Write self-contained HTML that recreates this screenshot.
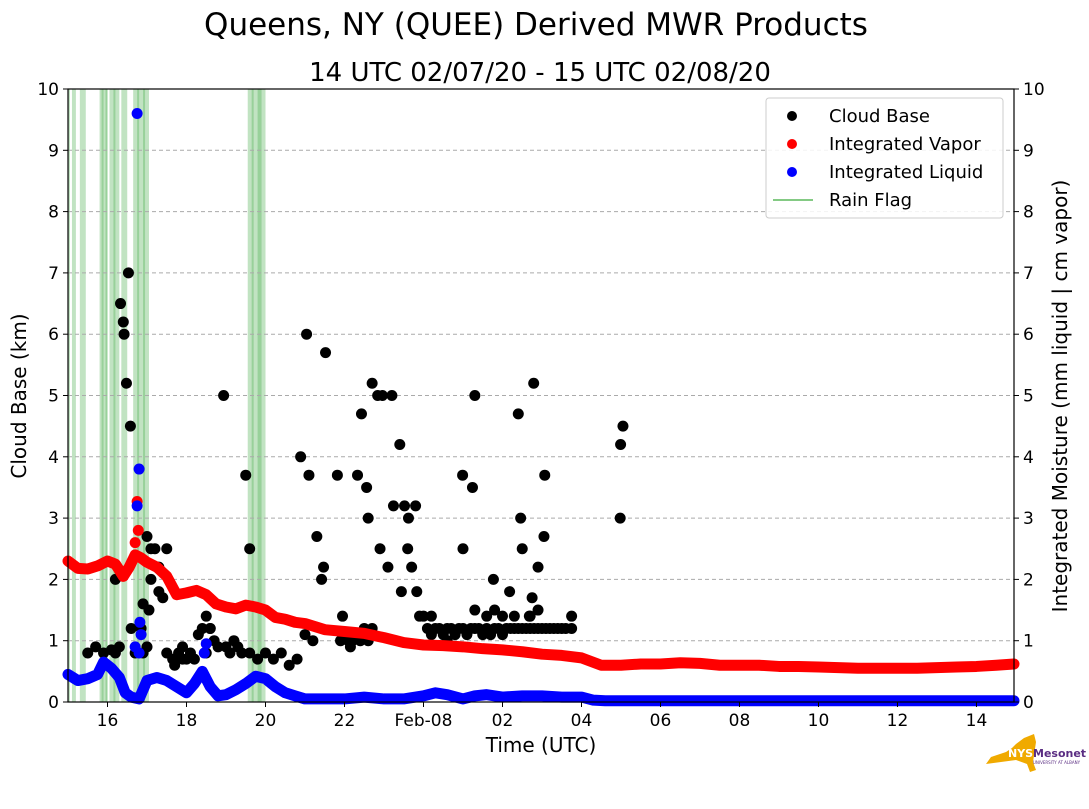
<!DOCTYPE html>
<html><head><meta charset="utf-8"><style>
body{margin:0;background:#fff;}
svg text{font-family:"DejaVu Sans","Liberation Sans",sans-serif;}
</style></head><body>
<svg id="chart" width="1089" height="804" xmlns="http://www.w3.org/2000/svg">
<text x="536" y="35" font-size="31" text-anchor="middle">Queens, NY (QUEE) Derived MWR Products</text>
<text x="540" y="81" font-size="26" text-anchor="middle">14 UTC 02/07/20 - 15 UTC 02/08/20</text>
<g id="rain"></g>
<g id="grid"></g>
<g id="marks"></g>
<rect x="68" y="89" width="946" height="613" fill="none" stroke="#000" stroke-width="1.2"/>
<g id="axes"></g>
<text x="541" y="752" font-size="20" text-anchor="middle">Time (UTC)</text>
<text transform="translate(26,396) rotate(-90)" font-size="20" text-anchor="middle">Cloud Base (km)</text>
<text transform="translate(1067,396) rotate(-90)" font-size="20" text-anchor="middle">Integrated Moisture (mm liquid | cm vapor)</text>
<g>
<rect x="766" y="98" width="237" height="120" rx="3" fill="#fff" fill-opacity="0.85" stroke="#ccc"/>
<circle cx="792" cy="116" r="5" fill="#000"/><text x="829" y="122" font-size="18">Cloud Base</text>
<circle cx="792" cy="144" r="5" fill="#f00"/><text x="829" y="150" font-size="18">Integrated Vapor</text>
<circle cx="792" cy="172" r="5" fill="#00f"/><text x="829" y="178" font-size="18">Integrated Liquid</text>
<line x1="773" y1="200" x2="813" y2="200" stroke="#5cb85c" stroke-width="1.5"/><text x="829" y="206" font-size="18">Rain Flag</text>
</g>
<g>
<path d="M1016,744 L1024,738 L1034,734 L1036,742 L1033,762 L1036,770 L1030,772 L1027,764 L1016,760 L986,764 L991,757 L1006,752 L1012,748 Z" fill="#f0aa00"/>
<text x="1008" y="757" font-size="11" font-weight="bold" fill="#fff">NYS</text>
<text x="1033" y="757" font-size="11" font-weight="bold" fill="#5a2d82">Mesonet</text>
<text x="1033" y="764" font-size="4" fill="#5a2d82">UNIVERSITY AT ALBANY</text>
</g>
</svg>
<script>
const xTickHours=[16,18,20,22,24,26,28,30,32,34,36,38];
const xTickLabels=["16","18","20","22","Feb-08","02","04","06","08","10","12","14"];
const yTicks=[0,1,2,3,4,5,6,7,8,9,10];
const rainStart=[15.0,15.1,15.3,15.8,15.85,15.95,16.05,16.15,16.35,16.65,16.75,16.9,19.55,19.65,19.8];
const rainEnd=[15.05,15.2,15.45,16.0,15.9,16.0,16.3,16.2,16.5,17.05,16.8,16.95,20.0,19.7,19.9];
const vapT=[15,15.25,15.5,15.75,16,16.2,16.4,16.55,16.7,16.85,17,17.25,17.5,17.75,18,18.25,18.5,18.75,19,19.25,19.5,19.75,20,20.25,20.5,20.75,21,21.5,22,22.5,23,23.5,24,24.5,25,25.5,26,26.5,27,27.5,28,28.5,29,29.5,30,30.5,31,31.5,32,32.5,33,33.5,34,34.5,35,35.5,36,36.5,37,37.5,38,38.5,38.95];
const vapV=[2.3,2.18,2.17,2.22,2.3,2.25,2.05,2.2,2.4,2.35,2.28,2.2,2.05,1.75,1.78,1.82,1.75,1.6,1.55,1.52,1.58,1.55,1.5,1.38,1.35,1.3,1.28,1.18,1.15,1.12,1.05,0.97,0.93,0.92,0.9,0.87,0.85,0.82,0.78,0.76,0.72,0.6,0.6,0.62,0.62,0.64,0.63,0.6,0.6,0.6,0.58,0.58,0.57,0.56,0.55,0.55,0.55,0.55,0.56,0.57,0.58,0.6,0.62];
const liqT=[15,15.25,15.5,15.75,15.9,16.1,16.3,16.45,16.6,16.8,17,17.25,17.5,17.75,18,18.2,18.4,18.6,18.8,19,19.25,19.5,19.75,20,20.25,20.5,20.75,21,21.5,22,22.5,23,23.5,24,24.3,24.6,25,25.3,25.6,26,26.5,27,27.5,28,28.3,28.6,29,30,31,32,33,34,35,36,37,38,38.95];
const liqV=[0.45,0.35,0.38,0.45,0.65,0.55,0.4,0.15,0.08,0.05,0.35,0.4,0.35,0.25,0.15,0.3,0.5,0.25,0.1,0.12,0.2,0.3,0.42,0.38,0.25,0.15,0.1,0.05,0.05,0.05,0.08,0.05,0.05,0.1,0.15,0.12,0.05,0.1,0.12,0.08,0.1,0.1,0.08,0.08,0.03,0.02,0.02,0.02,0.02,0.02,0.02,0.02,0.02,0.02,0.02,0.02,0.02];
const liqOutT=[16.75,16.8,16.75,16.82,16.85,16.8,16.7,18.45,18.5];
const liqOutV=[9.6,3.8,3.2,1.3,1.1,0.8,0.9,0.8,0.95];
const vapOutT=[16.75,16.78,16.7];
const vapOutV=[3.27,2.8,2.6];
const cbT=[16.33,16.4,16.42,16.48,16.53,16.58,17.0,18.94,19.5,19.6,20.89,21.04,21.52,21.1,21.3,21.42,21.47,21.82,22.33,22.43,22.56,22.7,22.84,22.96,23.2,22.6,22.9,23.1,23.24,23.4,23.52,23.6,23.62,23.7,23.8,23.83,23.44,24.99,25.0,25.24,25.3,25.77,26.18,26.4,26.46,26.5,26.68,26.79,26.75,26.9,27.07,27.05,28.99,28.98,29.05,
15.5,15.7,15.9,16.1,16.2,16.3,16.6,16.7,16.9,17.0,16.2,16.9,17.05,17.1,17.2,17.3,17.4,17.5,17.65,17.8,17.9,18.0,18.1,18.2,18.3,18.4,18.5,18.6,18.7,18.8,19.0,19.1,19.2,19.3,19.4,19.6,19.8,20.0,20.2,20.4,20.6,20.8,21.0,21.2,18.5,18.6,17.7,17.9,16.85,17.1,17.3,17.5,
21.9,22.1,22.2,22.3,22.4,22.5,22.6,22.7,21.95,22.15,
24.1,24.2,24.3,24.4,24.5,24.6,24.7,24.8,24.9,25.0,25.1,25.2,25.3,25.4,25.5,25.6,25.7,25.8,25.9,26.0,26.1,26.2,26.3,26.4,26.5,26.6,26.7,26.8,26.9,27.0,27.1,27.2,27.3,27.4,27.5,27.6,27.75,
23.9,24.0,24.2,25.3,25.6,25.8,26.0,26.3,26.7,26.9,27.75,24.6];
const cbV=[6.5,6.2,6.0,5.2,7.0,4.5,2.7,5.0,3.7,2.5,4.0,6.0,5.7,3.7,2.7,2.0,2.2,3.7,3.7,4.7,3.5,5.2,5.0,5.0,5.0,3.0,2.5,2.2,3.2,4.2,3.2,2.5,3.0,2.2,3.2,1.8,1.8,3.7,2.5,3.5,5.0,2.0,1.8,4.7,3.0,2.5,1.4,5.2,1.7,2.2,3.7,2.7,4.2,3.0,4.5,
0.8,0.9,0.8,0.85,0.8,0.9,1.2,0.8,0.8,0.9,2.0,1.6,1.5,2.5,2.5,2.2,1.7,0.8,0.7,0.8,0.7,0.7,0.8,0.7,1.1,1.2,0.8,1.2,1.0,0.9,0.9,0.8,1.0,0.9,0.8,0.8,0.7,0.8,0.7,0.8,0.6,0.7,1.1,1.0,1.4,1.2,0.6,0.9,1.2,2.0,1.8,2.5,
1.0,1.0,1.0,1.1,1.0,1.2,1.0,1.2,1.4,0.9,
1.2,1.1,1.2,1.2,1.1,1.2,1.2,1.1,1.2,1.2,1.1,1.2,1.2,1.2,1.1,1.2,1.1,1.2,1.2,1.1,1.2,1.2,1.2,1.2,1.2,1.2,1.2,1.2,1.2,1.2,1.2,1.2,1.2,1.2,1.2,1.2,1.2,
1.4,1.4,1.4,1.5,1.4,1.5,1.4,1.4,1.4,1.5,1.4,1.0];
const NS="http://www.w3.org/2000/svg";
const X0=68,X1=1014,Y0=702,Y1=89,H0=15,H1=38.95;
function xs(h){return X0+(h-H0)/(H1-H0)*(X1-X0);}
function ys(v){return Y0-v/10*(Y0-Y1);}
function mk(tag,attrs,parent){const e=document.createElementNS(NS,tag);for(const k in attrs)e.setAttribute(k,attrs[k]);document.getElementById(parent).appendChild(e);return e;}
for(let i=0;i<rainStart.length;i++){
  const r=mk('rect',{x:xs(rainStart[i]),y:Y1,width:Math.max(2,xs(rainEnd[i])-xs(rainStart[i])),height:Y0-Y1,fill:'#4caf50','fill-opacity':0.35},'rain');
  
  
}
yTicks.forEach(v=>{
  if(v>0&&v<10){const g=mk('line',{x1:X0,x2:X1,y1:ys(v),y2:ys(v),stroke:'#aaa','stroke-dasharray':'4,3','stroke-width':1},'grid');
  
  }
  mk('line',{x1:X0-5,x2:X0,y1:ys(v),y2:ys(v),stroke:'#000'},'axes');
  mk('line',{x1:X1,x2:X1+5,y1:ys(v),y2:ys(v),stroke:'#000'},'axes');
  const t=mk('text',{x:X0-9,y:ys(v)+6,'font-size':17,'text-anchor':'end'},'axes');t.textContent=v;
  
  
  const t2=mk('text',{x:X1+9,y:ys(v)+6,'font-size':17},'axes');t2.textContent=v;
  
  
});
xTickHours.forEach((h,i)=>{
  mk('line',{x1:xs(h),x2:xs(h),y1:Y0,y2:Y0+5,stroke:'#000'},'axes');
  const t=mk('text',{x:xs(h),y:Y0+24,'font-size':17,'text-anchor':'middle'},'axes');t.textContent=xTickLabels[i];
  
  
});
function series(T,V,color,name){
  const p=mk('polyline',{points:T.map((t,i)=>xs(t)+','+ys(V[i])).join(' '),fill:'none',stroke:color,'stroke-width':11,'stroke-linejoin':'round','stroke-linecap':'round'},'marks');
  
  
}
function dots(T,V,color,name){
  T.forEach((t,i)=>{const c=mk('circle',{cx:xs(t),cy:ys(V[i]),r:5.5,fill:color},'marks');
  
  });
}
dots(cbT,cbV,'#000','cloud-base-point');
series(vapT,vapV,'#f00','integrated-vapor');
dots(vapOutT,vapOutV,'#f00','integrated-vapor-point');
series(liqT,liqV,'#00f','integrated-liquid');
dots(liqOutT,liqOutV,'#00f','integrated-liquid-point');
</script>
</body></html>
